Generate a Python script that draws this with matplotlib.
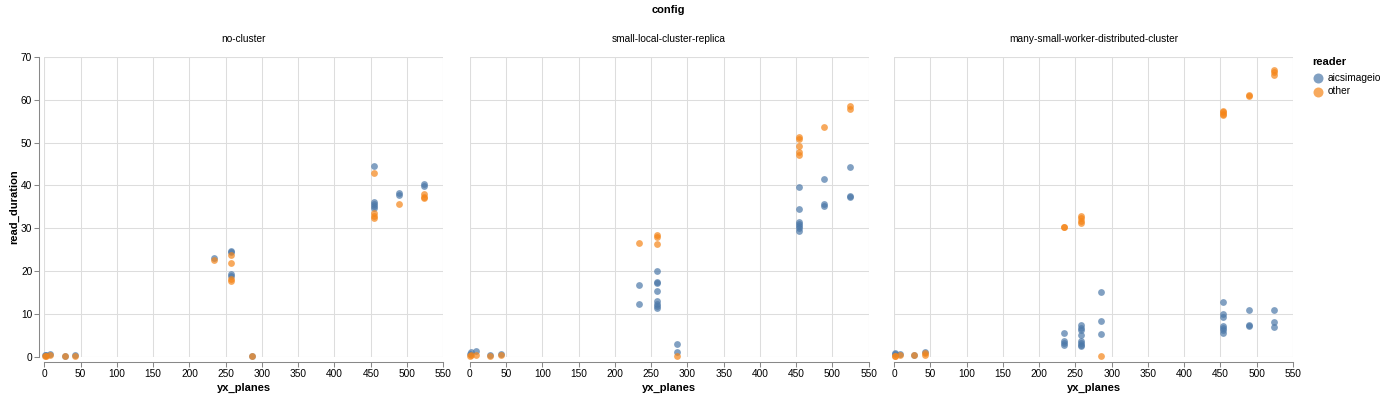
import matplotlib
matplotlib.use("Agg")
import matplotlib.pyplot as plt
from matplotlib.lines import Line2D

plt.rcParams['font.family'] = ['Liberation Sans', 'DejaVu Sans']

panels = ["no-cluster", "small-local-cluster-replica", "many-small-worker-distributed-cluster"]
readers = ["aicsimageio", "other"]
colors = {"aicsimageio": "#4c78a8", "other": "#f58518"}

# no-cluster
nc_blue_x = [1, 2, 8, 28, 43, 234, 258, 258, 258, 258, 286,
             454, 454, 454, 454, 454, 489, 489, 524, 524]
nc_blue_y = [0.4, 0.5, 0.6, 0.2, 0.5, 23.1, 24.7, 24.4, 19.3, 18.9, 0.2,
             44.6, 36.2, 35.7, 35.2, 34.7, 38.2, 37.7, 40.3, 39.9]
nc_orange_x = [1, 2, 8, 28, 43, 234, 258, 258, 258, 258, 286,
               454, 454, 454, 454, 489, 524, 524, 524]
nc_orange_y = [0.2, 0.2, 0.4, 0.1, 0.2, 22.5, 23.7, 22.0, 18.2, 17.7, 0.2,
               43.0, 33.5, 32.9, 32.3, 35.7, 38.0, 37.4, 37.0]

# small-local-cluster-replica
sl_blue_x = [1, 2, 8, 28, 43, 234, 234, 258, 258, 258, 258, 258, 258, 258, 258, 286, 286,
             454, 454, 454, 454, 454, 454, 454, 489, 489, 489, 524, 524, 524]
sl_blue_y = [0.6, 1.2, 1.3, 0.5, 0.6, 16.7, 12.4, 20.0, 17.5, 17.1, 15.4, 12.9, 12.4, 11.9, 11.4, 3.0, 1.2,
             39.7, 34.4, 31.5, 31.1, 30.5, 30.1, 29.4, 41.6, 35.7, 35.3, 44.2, 37.6, 37.2]
sl_orange_x = [1, 2, 8, 28, 43, 234, 258, 258, 258, 286,
               454, 454, 454, 454, 454, 489, 524, 524]
sl_orange_y = [0.2, 0.3, 0.5, 0.2, 0.3, 26.6, 28.4, 28.0, 26.4, 0.2,
               51.2, 50.8, 49.3, 47.7, 47.2, 53.7, 58.6, 57.9]

# many-small-worker-distributed-cluster
ms_blue_x = [1, 2, 8, 28, 43, 234, 234, 234, 234, 258, 258, 258, 258, 258, 258, 258, 258,
             286, 286, 286, 454, 454, 454, 454, 454, 454, 454, 489, 489, 489, 524, 524, 524]
ms_blue_y = [0.7, 0.8, 0.7, 0.5, 1.2, 5.5, 3.7, 3.2, 2.7, 7.3, 6.8, 6.2, 5.1, 3.7, 3.1, 2.7, 2.4,
             15.0, 8.4, 5.4, 12.7, 9.9, 9.3, 7.1, 6.8, 6.2, 5.5, 10.9, 7.4, 7.1, 10.8, 8.1, 7.0]
ms_orange_x = [1, 2, 8, 28, 43, 43, 234, 234, 258, 258, 258, 258, 286,
               454, 454, 454, 454, 489, 489, 524, 524, 524]
ms_orange_y = [0.2, 0.2, 0.4, 0.3, 0.4, 0.8, 30.2, 30.4, 32.9, 32.3, 31.8, 31.3, 0.2,
               57.5, 57.2, 56.8, 56.4, 61.2, 60.8, 66.9, 66.4, 65.7]

data = {
    "no-cluster": {"aicsimageio": (nc_blue_x, nc_blue_y), "other": (nc_orange_x, nc_orange_y)},
    "small-local-cluster-replica": {"aicsimageio": (sl_blue_x, sl_blue_y), "other": (sl_orange_x, sl_orange_y)},
    "many-small-worker-distributed-cluster": {"aicsimageio": (ms_blue_x, ms_blue_y), "other": (ms_orange_x, ms_orange_y)},
}

x_ticks = list(range(0, 551, 50))
y_ticks = list(range(0, 71, 10))

W, H = 1386, 398
fig = plt.figure(figsize=(W / 100, H / 100), dpi=100)

lefts = [44.3, 469.7, 894.0]
pw = 399.0
top = 57.0
bottom = 356.7
grid_c = "#dddddd"
axis_c = "#888888"
lab_fs = 7.3

for i, (name, left) in enumerate(zip(panels, lefts)):
    ax = fig.add_axes([left / W, 1 - bottom / H, pw / W, (bottom - top) / H])
    ax.set_xlim(0, 550)
    ax.set_ylim(0, 70)
    for r in readers:
        xs, ys = data[name][r]
        ax.scatter(xs, ys, s=24, color=colors[r], alpha=0.7, linewidths=0, clip_on=False, zorder=3)
    ax.set_xticks(x_ticks)
    ax.set_yticks(y_ticks)
    ax.grid(True, color=grid_c, linewidth=0.75, zorder=0)
    ax.set_axisbelow(True)
    for s in ["top", "right"]:
        ax.spines[s].set_visible(False)
    ax.spines["bottom"].set_position(("outward", 3.6))
    ax.spines["bottom"].set_color(axis_c)
    ax.spines["bottom"].set_linewidth(0.75)
    if i == 0:
        ax.spines["left"].set_position(("outward", 3.6))
        ax.spines["left"].set_color(axis_c)
        ax.spines["left"].set_linewidth(0.75)
    else:
        ax.spines["left"].set_visible(False)
        ax.tick_params(axis="y", left=False, labelleft=False)
    ax.tick_params(axis="both", color=axis_c, length=3.6, width=0.75, labelsize=lab_fs, labelcolor="#000000", pad=1.5)
    # frame lines like the grid
    ax.axhline(70, color=grid_c, linewidth=0.75, zorder=0)
    ax.axvline(550, color=grid_c, linewidth=0.75, zorder=0)
    ax.axvline(0, color=grid_c, linewidth=0.75, zorder=0)
    ax.axhline(0, color=grid_c, linewidth=0.75, zorder=0)
    ax.set_xlabel("yx_planes", fontsize=8, fontweight="bold", labelpad=3)
    ax.set_title(name, fontsize=7.3, pad=11)
    if i == 0:
        ax.set_ylabel("read_duration", fontsize=8, fontweight="bold", labelpad=1)

fig.text(668 / W, 1 - 10 / H, "config", ha="center", va="center", fontsize=8, fontweight="bold")

# legend
fig.text(1312 / W, 1 - 62 / H, "reader", ha="left", va="center", fontsize=8, fontweight="bold")
for j, r in enumerate(readers):
    yy = 78 + j * 13.5
    fig.add_artist(Line2D([1318 / W], [1 - yy / H], marker="o", markersize=7.2, color=colors[r],
                          alpha=0.7, markeredgewidth=0, linestyle="none"))
    fig.text(1328 / W, 1 - yy / H, r, ha="left", va="center", fontsize=7.3)

fig.savefig("out.png", dpi=100)
